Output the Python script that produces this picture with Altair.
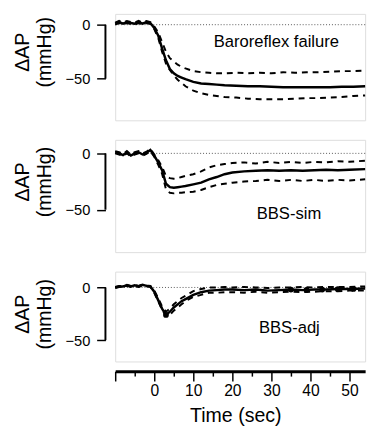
import altair as alt
import pandas as pd

FONT = "Liberation Sans"

# ---------------- data ----------------
t_a = [-10, -9, -8, -7, -6, -5, -4, -3, -2, -1, 0, 1, 2, 3, 4, 5, 6, 7, 8, 10, 12, 14, 16, 18,
       21, 24, 27, 30, 33, 36, 39, 42, 45, 48, 51, 54]
bf_mean = [1, 2.5, 1, 2.5, 1.5, 1, 2.5, 1, 2.5, 1.5, -3, -10, -22, -33, -41, -45, -47.5, -49, -50.5,
           -53, -54.5, -55, -55.5, -56, -56.5, -57, -57, -57.5, -58, -58, -58, -58, -58, -57.5, -57.5, -57]
bf_upper = [2, 3.5, 2, 3.5, 2.5, 2, 3.5, 2, 3.5, 2.5, -1.5, -7, -16, -25, -31, -34, -37, -39, -40.5,
            -43, -44, -44.5, -45, -45, -44.5, -45, -44.5, -45, -44, -44.5, -44, -44, -43.5, -43, -43, -42.5]
bf_lower = [0, 1.5, 0, 1.5, 0.5, 0, 1.5, 0, 1.5, 0.5, -4, -12, -25, -36, -42, -47, -51, -54, -57,
            -61, -63.5, -65, -66, -67, -67.5, -68.5, -69, -69, -69, -68.5, -68, -68, -67.5, -67, -66, -65.5]

t_b = [-10, -9, -8, -7, -6, -5, -4, -3, -2, -1, 0, 1, 2, 3, 4, 5, 6, 7, 8, 10, 12, 14, 16, 18,
       20, 23, 26, 29, 32, 35, 38, 41, 44, 47, 50, 54]
sim_mean = [1, 0, -1.5, 1, -2, 0, 1, -1, 0.5, 3, -2, -8, -15, -27, -30, -30.5, -30, -29.5, -29,
            -27.5, -26, -23, -21, -18.5, -17, -16, -15.5, -15, -15.5, -15, -15.5, -15, -14.5, -15, -14.5, -14]
sim_upper = [2, 1, -0.5, 2, -1, 1, 2, 0, 1.5, 4, -1, -6, -12, -20, -22, -22.5, -22, -21, -20,
             -18.5, -16, -12.5, -10.5, -9.5, -8.5, -8, -9, -7.5, -8.5, -7.5, -8.5, -7.5, -8, -7, -7.5, -6.5]
sim_lower = [0, -1, -2.5, 0, -3, -1, 0, -2, -0.5, 2, -3, -10, -18, -32, -35, -35.5, -35, -35, -34.5,
             -34, -32.5, -30, -28, -27, -26, -25, -24.5, -23.5, -24.5, -23.5, -24.5, -23.5, -24.5, -23.5, -24, -23]

adj_mean = [0, 1, 1, 2, 1, 2, 1, 2.5, 1.5, 1, -4, -12, -20, -26, -23, -19, -16, -13, -11,
            -7, -4.5, -3, -2.5, -2, -2, -2.5, -2, -3, -2.5, -2, -2.5, -2, -2, -1.5, -1.5, -1]
adj_upper = [0.5, 1.5, 1.5, 2.5, 1.5, 2.5, 1.5, 3, 2, 1.5, -3, -10, -18, -23, -20, -16, -13, -10, -8,
             -3.5, -1.5, 0, 0, 0.5, 0, 0.5, 0, -0.5, 0, 0, 0.5, 0, 0.5, 0.5, 0.5, 1]
adj_lower = [-0.5, 0.5, 0.5, 1.5, 0.5, 1.5, 0.5, 2, 1, 0.5, -5, -13, -21, -27, -26, -22, -19, -16, -13,
             -9, -7, -5, -5, -4.5, -4.5, -5, -4, -5, -4.5, -4, -4.5, -4, -3.5, -3.5, -3, -3]
adj_dot_t = [3, 35, 39, 43, 47, 51]
adj_dot_v = [-26, -2, -2.3, -2, -1.6, -1.4]

panel_labels = ["Baroreflex failure", "BBS-sim", "BBS-adj"]
label_t = [31.25, 34.5, 34.6]
label_v = [-16.5, -53.5, -38.1]

x_ticks = [-10, -5, 0, 5, 10, 15, 20, 25, 30, 35, 40, 45, 50]
y_ticks = [0, -50]

# ---------------- layout numbers ----------------
X_DOMAIN = [-10, 54]
W = 256
panels = [
    dict(t=t_a, m=bf_mean, u=bf_upper, l=bf_lower, dom=[-88.55, 10], h=109, ty=38.75),
    dict(t=t_b, m=sim_mean, u=sim_upper, l=sim_lower, dom=[-87.65, 12], h=115, ty=42.7),
    dict(t=t_b, m=adj_mean, u=adj_upper, l=adj_lower, dom=[-70.19, 15], h=92, ty=43.2),
]

x_axis = alt.Axis(
    values=x_ticks, title="Time (sec)", offset=10, domainWidth=3, domainColor="black",
    tickColor="black", tickWidth=1.5,
    tickSize={"expr": "datum.value % 10 === 0 ? 10 : 5"},
    labelExpr="datum.value % 10 === 0 && datum.value >= 0 ? datum.label : ''",
    labelFontSize=16, labelFont=FONT, labelColor="black", labelPadding=2,
    titleFontSize=20, titleFont=FONT, titleFontWeight="normal", titleColor="black",
    titlePadding=8, titleX=123, titleAlign="center", grid=False,
)

charts = []
for i, p in enumerate(panels):
    df = pd.DataFrame({"t": p["t"], "mean": p["m"], "upper": p["u"], "lower": p["l"]})
    lab = pd.DataFrame({"t": [label_t[i]], "v": [label_v[i]], "label": [panel_labels[i]]})
    brk = pd.DataFrame({"y": y_ticks})
    xa = x_axis if i == 2 else None
    yscale = alt.Scale(domain=p["dom"], nice=False, zero=False)
    xs = alt.Scale(domain=X_DOMAIN, nice=False, zero=False)
    y_axis = alt.Axis(
        values=y_ticks, title=["ΔAP", "(mmHg)"], domain=False, offset=10, tickSize=9,
        tickColor="black", tickWidth=1.5, labelFontSize=15, labelFont=FONT, labelColor="black",
        labelPadding=7, titleFontSize=20, titleFont=FONT, titleFontWeight="normal",
        titleColor="black", titlePadding=11, titleY=p["ty"], titleLineHeight=22, grid=False,
    )

    def X(field):
        return alt.X(field, type="quantitative", scale=xs, axis=xa)

    def Y(field):
        return alt.Y(field, type="quantitative", scale=yscale, axis=y_axis)

    zero = alt.Chart(brk).transform_filter("datum.y == 0").mark_rule(
        color="#555555", strokeWidth=1, strokeDash=[1, 2]
    ).encode(y=Y("y"))
    up = alt.Chart(df).mark_line(color="black", strokeWidth=2, strokeDash=[6, 5]).encode(x=X("t"), y=Y("upper"))
    lo = alt.Chart(df).mark_line(color="black", strokeWidth=2, strokeDash=[6, 5]).encode(x=X("t"), y=Y("lower"))
    mn = alt.Chart(df).mark_line(color="black", strokeWidth=2.5).encode(x=X("t"), y=Y("mean"))
    bracket = alt.Chart(brk).mark_line(color="black", strokeWidth=2).encode(
        x=alt.value(-10), y=Y("y")
    )
    txt = alt.Chart(lab).mark_text(
        font=FONT, fontSize=17, color="black", align="center", baseline="middle"
    ).encode(x=X("t"), y=Y("v"), text="label:N")
    layers = [zero, up, lo, mn, bracket, txt]
    if i == 2:
        dots = pd.DataFrame({"t": adj_dot_t, "v": adj_dot_v})
        layers.append(
            alt.Chart(dots).mark_point(filled=True, color="black", size=35, opacity=1).encode(
                x=X("t"), y=Y("v")
            )
        )
    charts.append(alt.layer(*layers).properties(width=W, height=p["h"]))

chart = alt.vconcat(*charts, spacing=20, bounds="flush").resolve_scale(
    x="independent", y="independent"
).properties(
    padding={"left": 13, "top": 8, "right": 0, "bottom": 0}
).configure_view(strokeWidth=0, stroke="transparent").configure(font=FONT, background="white")

chart.save("out.html", embed_options={"renderer": "svg", "actions": False})
